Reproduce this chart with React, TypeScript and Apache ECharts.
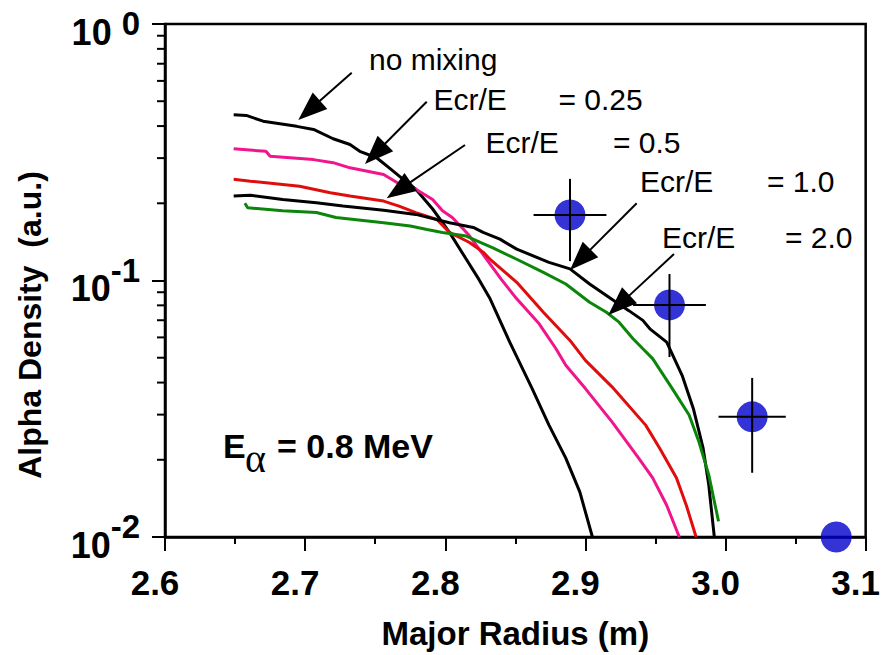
import React, { useEffect, useRef } from 'react';
import * as echarts from 'echarts';

// ---- data ----
const xNoMix = [2.649, 2.658, 2.670, 2.694, 2.706, 2.720, 2.732, 2.739, 2.751, 2.760, 2.770, 2.779, 2.791, 2.803, 2.815, 2.824, 2.832, 2.846, 2.862, 2.874, 2.886, 2.896, 2.905];
const yNoMix = [0.443, 0.440, 0.418, 0.399, 0.388, 0.357, 0.339, 0.319, 0.301, 0.275, 0.248, 0.227, 0.190, 0.154, 0.121, 0.101, 0.0848, 0.0575, 0.0379, 0.0273, 0.0203, 0.0150, 0.0100];

const xE025 = [2.649, 2.672, 2.675, 2.706, 2.720, 2.732, 2.756, 2.770, 2.779, 2.791, 2.798, 2.805, 2.817, 2.829, 2.840, 2.851, 2.867, 2.879, 2.886, 2.900, 2.919, 2.938, 2.948, 2.958, 2.967];
const yE025 = [0.326, 0.319, 0.305, 0.296, 0.288, 0.275, 0.259, 0.233, 0.227, 0.207, 0.187, 0.176, 0.150, 0.122, 0.101, 0.0848, 0.0678, 0.0542, 0.0467, 0.0379, 0.0281, 0.0203, 0.0170, 0.0133, 0.0100];

const xE05 = [2.649, 2.661, 2.696, 2.718, 2.732, 2.756, 2.767, 2.779, 2.794, 2.803, 2.817, 2.827, 2.832, 2.851, 2.870, 2.889, 2.900, 2.919, 2.943, 2.953, 2.965, 2.972, 2.979];
const yE05 = [0.248, 0.244, 0.233, 0.220, 0.2135, 0.204, 0.195, 0.184, 0.173, 0.154, 0.141, 0.129, 0.121, 0.0984, 0.0752, 0.0584, 0.0488, 0.0385, 0.0273, 0.0222, 0.0170, 0.0133, 0.0100];

const xE10 = [2.649, 2.661, 2.684, 2.708, 2.727, 2.756, 2.779, 2.803, 2.820, 2.827, 2.839, 2.851, 2.874, 2.889, 2.903, 2.922, 2.931, 2.941, 2.946, 2.958, 2.969, 2.977, 2.984, 2.988, 2.992];
const yE10 = [0.2135, 0.215, 0.207, 0.201, 0.195, 0.188, 0.181, 0.168, 0.161, 0.154, 0.145, 0.1325, 0.1177, 0.111, 0.0969, 0.0823, 0.0763, 0.0699, 0.0648, 0.0575, 0.0427, 0.0317, 0.0222, 0.0160, 0.0100];

const xE20 = [2.657, 2.659, 2.684, 2.708, 2.722, 2.756, 2.775, 2.787, 2.798, 2.815, 2.825, 2.834, 2.851, 2.870, 2.886, 2.903, 2.915, 2.924, 2.934, 2.941, 2.948, 2.962, 2.974, 2.981, 2.988, 2.995];
const yE20 = [0.200, 0.192, 0.187, 0.184, 0.176, 0.168, 0.163, 0.158, 0.154, 0.149, 0.1407, 0.134, 0.121, 0.1076, 0.0969, 0.0823, 0.0752, 0.0688, 0.0593, 0.0542, 0.0496, 0.0379, 0.0299, 0.0235, 0.0175, 0.0115];

const dotX = [2.889, 2.960, 3.019, 3.079];
const dotY = [0.180, 0.0803, 0.0294, 0.0100];
const dotXErr = [0.026, 0.026, 0.024, null];
const dotYLow = [0.119, 0.0503, 0.0178, null];
const dotYHigh = [0.249, 0.106, 0.0417, null];

const X_MIN = 2.6;
const X_MAX = 3.1;
const xTicks = ['2.6', '2.7', '2.8', '2.9', '3.0', '3.1'];
const yMinorTicks = [0.02, 0.03, 0.04, 0.05, 0.06, 0.07, 0.08, 0.09, 0.2, 0.3, 0.4, 0.5, 0.6, 0.7, 0.8, 0.9];

const curveNames = ['no mixing', 'Ecr/E = 0.25', 'Ecr/E = 0.5', 'Ecr/E = 1.0', 'Ecr/E = 2.0'];
const curveColors = ['#000000', '#f0158c', '#e00d0d', '#000000', '#0b860b'];

const FONT = '"Liberation Sans", Arial, Helvetica, sans-serif';

const zip = (xs: number[], ys: number[]) => xs.map((x, i) => [x, ys[i]]);

function arrow(x1: number, y1: number, x2: number, y2: number) {
  const dx = x2 - x1, dy = y2 - y1;
  const L = Math.hypot(dx, dy);
  const ux = dx / L, uy = dy / L;
  const hl = 29, hw = 11;
  const bx = x2 - ux * hl, by = y2 - uy * hl;
  const px = -uy, py = ux;
  return [
    { type: 'line', z: 100, shape: { x1, y1, x2: bx + ux * 2, y2: by + uy * 2 }, style: { stroke: '#000', lineWidth: 2 } },
    { type: 'polygon', z: 100, shape: { points: [[x2, y2], [bx + px * hw, by + py * hw], [bx - px * hw, by - py * hw]] }, style: { fill: '#000' } },
  ];
}

function label(text: string, x: number, baseline: number, size = 30) {
  return {
    type: 'text', z: 100, x, y: baseline - size * 0.35,
    style: { text, fontFamily: FONT, fontSize: size, fill: '#000', align: 'left', verticalAlign: 'middle' },
  };
}

export default function App() {
  const ref = useRef<HTMLDivElement>(null);
  useEffect(() => {
    if (!ref.current) return;
    const chart = echarts.init(ref.current, null, { renderer: 'svg' });
    const curves = [zip(xNoMix, yNoMix), zip(xE025, yE025), zip(xE05, yE05), zip(xE10, yE10), zip(xE20, yE20)];
    const errData = dotX
      .map((x, i) => [x, dotY[i], dotXErr[i], dotYLow[i], dotYHigh[i]])
      .filter((d) => d[2] != null);

    const graphics: any[] = [
      {
        type: 'text', z: 100, x: 30, y: 325, rotation: Math.PI / 2,
        style: { text: 'Alpha Density  (a.u.)', fontFamily: FONT, fontWeight: 'bold', fontSize: 32, fill: '#000', align: 'center', verticalAlign: 'middle' },
      },
      label('no mixing', 369, 69.5),
      label('Ecr/E', 433.5, 110), label('= 0.25', 558.5, 110),
      label('Ecr/E', 485.5, 153), label('= 0.5', 613, 153),
      label('Ecr/E', 640, 191.5), label('= 1.0', 767, 191.5),
      label('Ecr/E', 662, 247.5), label('= 2.0', 785, 247.5),
      {
        type: 'text', z: 100, x: 223, y: 446,
        style: { text: 'E', fontFamily: FONT, fontWeight: 'bold', fontSize: 34, fill: '#000', align: 'left', verticalAlign: 'middle' },
      },
      {
        type: 'text', z: 100, x: 245, y: 458,
        style: { text: 'α', fontFamily: '"Liberation Serif", "Times New Roman", serif', fontSize: 40, fill: '#000', align: 'left', verticalAlign: 'middle' },
      },
      {
        type: 'text', z: 100, x: 277, y: 446,
        style: { text: '= 0.8 MeV', fontFamily: FONT, fontWeight: 'bold', fontSize: 34, fill: '#000', align: 'left', verticalAlign: 'middle' },
      },
      ...arrow(351.7, 72.7, 298.3, 120),
      ...arrow(426.7, 101.7, 365, 164),
      ...arrow(465, 145, 386.7, 198.3),
      ...arrow(636.7, 203.3, 570, 270),
      ...arrow(674, 254, 608.3, 315),
    ];

    chart.setOption({
      animation: false,
      backgroundColor: '#ffffff',
      grid: { left: 165, right: 16, top: 24, bottom: 116, show: true, borderColor: '#000', borderWidth: 2.5 },
      xAxis: {
        type: 'value', min: X_MIN, max: X_MAX, interval: 0.1,
        name: 'Major Radius (m)', nameLocation: 'middle', nameGap: 80,
        nameTextStyle: { fontFamily: FONT, fontWeight: 'bold', fontSize: 33, color: '#000' },
        axisLine: { show: true, onZero: false, lineStyle: { color: '#000', width: 2.5 } },
        axisTick: { show: true, length: 14, lineStyle: { color: '#000', width: 2 } },
        minorTick: { show: true, splitNumber: 2, length: 7, lineStyle: { color: '#000', width: 2 } },
        splitLine: { show: false },
        axisLabel: {
          fontFamily: FONT, fontWeight: 'bold', fontSize: 35, color: '#000', margin: 28,
          padding: [0, 20, 0, 0],
          formatter: (v: number) => xTicks[Math.round((v - X_MIN) * 10)] ?? v.toFixed(1),
        },
      },
      yAxis: {
        type: 'log', logBase: 10, min: 0.01, max: 1,
        axisLine: { show: true, lineStyle: { color: '#000', width: 2.5 } },
        axisTick: { show: true, length: 13, lineStyle: { color: '#000', width: 2 } },
        splitLine: { show: false },
        axisLabel: {
          margin: 25, color: '#000', padding: [16, 0, 0, 0],
          formatter: (v: number) => {
            const e = Math.round(Math.log10(v));
            return e === 0 ? `{b0|10}{z|0}` : `{b|10}{s|${e}}`;
          },
          rich: {
            b: { fontFamily: FONT, fontWeight: 'bold', fontSize: 36, color: '#000', lineHeight: 70, verticalAlign: 'middle' },
            b0: { fontFamily: FONT, fontWeight: 'bold', fontSize: 36, color: '#000', lineHeight: 50, verticalAlign: 'middle' },
            s: { fontFamily: FONT, fontWeight: 'bold', fontSize: 33, color: '#000', lineHeight: 16, verticalAlign: 'top' },
            z: { fontFamily: FONT, fontWeight: 'bold', fontSize: 33, color: '#000', lineHeight: 16, verticalAlign: 'top', padding: [0, 0, 0, 10] },
          },
        },
      },
      graphic: { elements: graphics },
      series: [
        {
          type: 'custom', name: 'minor ticks', z: 6, clip: false, silent: true,
          data: yMinorTicks.map((v) => [X_MIN, v]),
          encode: { x: 0, y: 1 },
          renderItem: (params: any, api: any) => {
            const p = api.coord([api.value(0), api.value(1)]);
            return { type: 'line', shape: { x1: p[0] - 8, y1: p[1], x2: p[0], y2: p[1] }, style: { stroke: '#000', lineWidth: 2 } };
          },
        },
        ...curves.map((d, i) => ({
          type: 'line', name: curveNames[i], data: d,
          showSymbol: false, symbol: 'none',
          lineStyle: { color: curveColors[i], width: 3 },
          z: 3,
        })),
        {
          type: 'scatter', name: 'measured',
          data: zip(dotX, dotY), symbolSize: 31,
          itemStyle: { color: '#0000cc' }, z: 4, clip: false,
        },
        {
          type: 'custom', name: 'error bars', z: 5, clip: false,
          data: errData,
          encode: { x: 0, y: 1 },
          renderItem: (params: any, api: any) => {
            const x = api.value(0), y = api.value(1), xe = api.value(2), yl = api.value(3), yh = api.value(4);
            const a = api.coord([x - xe, y]), b = api.coord([x + xe, y]);
            const c = api.coord([x, yh]), d = api.coord([x, yl]);
            return {
              type: 'group',
              children: [
                { type: 'line', shape: { x1: a[0], y1: a[1], x2: b[0], y2: b[1] }, style: { stroke: '#000', lineWidth: 2 } },
                { type: 'line', shape: { x1: c[0], y1: c[1], x2: d[0], y2: d[1] }, style: { stroke: '#000', lineWidth: 2 } },
              ],
            };
          },
        },
      ],
    });
    return () => chart.dispose();
  }, []);
  return <div ref={ref} style={{ position: 'fixed', left: 0, top: 0, width: 883, height: 655, background: '#fff' }} />;
}
